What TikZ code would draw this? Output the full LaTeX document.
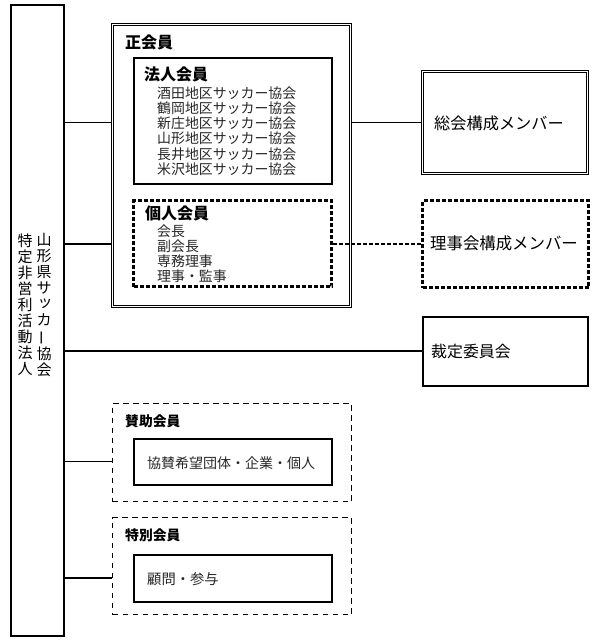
\documentclass[tikz,border=0pt]{standalone}
\usepackage{fontspec}
\usepackage{graphicx}
\setmainfont{Noto Sans CJK JP}
\newcommand{\vbar}{\rotatebox[origin=c]{90}{ー}}
\newcommand{\vtsu}{\raisebox{2pt}{\hspace{2pt}ッ}}
\begin{document}
\begin{tikzpicture}[x=1pt,y=-1pt,
  box/.style={draw, line width=2pt, inner sep=0},
  dbox/.style={draw, line width=0.9pt, double, double distance=1.6pt, inner sep=0},
  sdash/.style={draw, line width=2.2pt, dash pattern=on 4pt off 2pt, inner sep=0},
  ldash/.style={draw, line width=1.8pt, dash pattern=on 5.5pt off 4.5pt, inner sep=0},
  conn/.style={line width=1.8pt},
  dconn/.style={line width=2.2pt, dash pattern=on 4pt off 2pt},
  ttl/.style={anchor=west, inner sep=0, font=\bfseries\fontsize{#1}{#1}\selectfont},
  txt/.style={anchor=west, inner sep=0, font=\fontsize{#1}{#1}\selectfont},
  itm/.style={anchor=west, inner sep=0, text=black!85, font=\fontsize{13.9}{13.9}\selectfont},
  vcol/.style={inner sep=0, align=center, font=\fontsize{15}{16}\selectfont},
]
\useasboundingbox (0,0) rectangle (600,640);

% left tall box
\node[draw, line width=1.8pt, inner sep=0, minimum width=53pt, minimum height=631pt] (left) at (37.5,320.5) {};
\node[vcol] (v1) at (44,305) {山\\形\\県\\サ\\\vtsu\\カ\\\vbar\\協\\会};
\node[vcol] (v2) at (25,305) {特\\定\\非\\営\\利\\活\\動\\法\\人};

% 正会員
\node[dbox, minimum width=238pt, minimum height=282pt] (sei) at (231.5,165.5) {};
\node[ttl=16] (tsei) at (125,42) {正会員};

\node[box, minimum width=198pt, minimum height=126pt] (hojin) at (232.5,120.5) {};
\node[ttl=16] (thojin) at (144,74) {法人会員};
\node[itm] (h1) at (157,93) {酒田地区サッカー協会};
\node[itm] (h2) at (157,108.2) {鶴岡地区サッカー協会};
\node[itm] (h3) at (157,123.4) {新庄地区サッカー協会};
\node[itm] (h4) at (157,138.6) {山形地区サッカー協会};
\node[itm] (h5) at (157,153.8) {長井地区サッカー協会};
\node[itm] (h6) at (157,169) {米沢地区サッカー協会};

\node[sdash, minimum width=198pt, minimum height=86pt] (kojin) at (232.5,243.5) {};
\node[ttl=16] (tkojin) at (145,213) {個人会員};
\node[itm] (k1) at (157,231) {会長};
\node[itm] (k2) at (157,246) {副会長};
\node[itm] (k3) at (157,261) {専務理事};
\node[itm] (k4) at (157,276) {理事・監事};

% right boxes
\node[dbox, minimum width=165pt, minimum height=102pt] (soukai) at (505,122.5) {};
\node[txt=16.2] (tsoukai) at (434,123) {総会構成メンバー};

\node[sdash, minimum width=166pt, minimum height=87pt] (riji) at (505.5,244) {};
\node[txt=16.4] (triji) at (430,243) {理事会構成メンバー};

\node[box, minimum width=165pt, minimum height=69pt] (saitei) at (505,351) {};
\node[txt=15.9] (tsaitei) at (431,351) {裁定委員会};

% 賛助会員
\node[ldash, minimum width=239pt, minimum height=98pt] (sanjo) at (232,452.5) {};
\node[ttl=13.8] (tsanjo) at (125,421) {賛助会員};
\node[box, minimum width=198pt, minimum height=46pt] (sanjoin) at (232.5,461.5) {};
\node[txt=14, text=black!85] (tsanjoin) at (147,463) {協賛希望団体・企業・個人};

% 特別会員
\node[ldash, minimum width=239pt, minimum height=97pt] (toku) at (232,566) {};
\node[ttl=13.8] (ttoku) at (125,535) {特別会員};
\node[box, minimum width=198pt, minimum height=47pt] (tokuin) at (232.5,578) {};
\node[txt=14.3, text=black!85] (ttokuin) at (147,579) {顧問・参与};

% connectors
\draw[conn] (left.east |- soukai) -- (sei.west |- soukai);
\draw[conn] (sei.east |- soukai) -- (soukai.west);
\draw[conn] (left.east |- riji) -- (sei.west |- riji);
\draw[dconn] (kojin.east |- riji) -- (riji.west);
\draw[conn] (left.east |- saitei) -- (saitei.west);
\draw[conn] (left.east |- sanjoin) -- (sanjo.west |- sanjoin);
\draw[conn] (left.east |- tokuin) -- (toku.west |- tokuin);
\end{tikzpicture}
\end{document}
